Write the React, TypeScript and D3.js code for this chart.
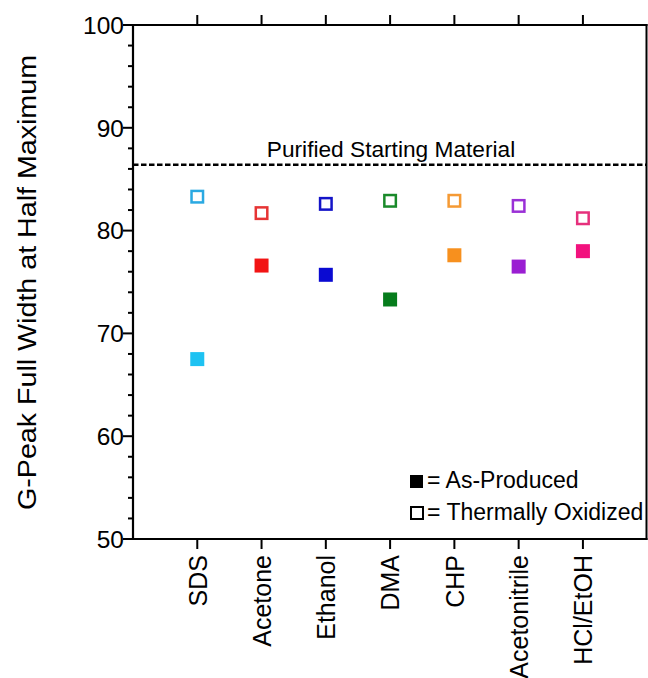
import React from 'react';
import * as d3 from 'd3';

// chart data
const categories = ['SDS', 'Acetone', 'Ethanol', 'DMA', 'CHP', 'Acetonitrile', 'HCl/EtOH'];
const asProduced = [67.5, 76.6, 75.7, 73.3, 77.6, 76.5, 78.0];
const oxidized = [83.3, 81.7, 82.6, 82.9, 82.9, 82.4, 81.2];
const fillColors = ['#1ec2f2', '#f21414', '#0a0ad2', '#067c1c', '#f7901e', '#9a1ed2', '#f2127e'];
const strokeColors = ['#2aa9e2', '#e63434', '#1414c8', '#1a8a2a', '#f59a34', '#9a30d6', '#e6307c'];
const yTicks = [50, 60, 70, 80, 90, 100];
const purifiedLevel = 86.4;

const W = 648;
const H = 678;
const LEFT = 133;
const RIGHT = 646.5;
const TOP = 25;
const BOTTOM = 539;
const FONT = "'Liberation Sans', Arial, sans-serif";

export default function App() {
  // categories sit at integer positions, axes at -1 and 7
  const x = d3.scaleLinear().domain([-1, 7]).range([LEFT, 647.2]);
  const y = d3.scaleLinear().domain([50, 100]).range([BOTTOM, TOP]);
  const minorTicks = d3.range(50, 101, 2).filter((v) => v % 10 !== 0);
  const S = 14; // marker size

  return (
    <svg
      width={W}
      height={H}
      style={{ position: 'absolute', left: 0, top: 0, background: '#fff' }}
      fontFamily={FONT}
    >
      {/* frame */}
      <line x1={LEFT} x2={LEFT} y1={TOP - 1} y2={BOTTOM + 1} stroke="#000" strokeWidth={2.2} />
      <line x1={RIGHT} x2={RIGHT} y1={TOP - 1} y2={BOTTOM + 1} stroke="#000" strokeWidth={2} />
      <line x1={LEFT - 1} x2={RIGHT + 1} y1={TOP} y2={TOP} stroke="#000" strokeWidth={2.2} />
      <line x1={LEFT - 1} x2={RIGHT + 1} y1={BOTTOM} y2={BOTTOM} stroke="#000" strokeWidth={2.2} />

      {/* left ticks */}
      {yTicks.map((t) => (
        <g key={t}>
          <line x1={LEFT - 10} x2={LEFT} y1={y(t)} y2={y(t)} stroke="#000" strokeWidth={2} />
          <text x={LEFT - 9} y={y(t)} dy="0.36em" textAnchor="end" fontSize={24.5}>
            {t}
          </text>
        </g>
      ))}
      {minorTicks.map((t) => (
        <line key={t} x1={LEFT - 5} x2={LEFT} y1={y(t)} y2={y(t)} stroke="#000" strokeWidth={2} />
      ))}

      {/* top and bottom ticks + category labels */}
      {categories.map((c, i) => (
        <g key={c}>
          <line x1={x(i)} x2={x(i)} y1={TOP - 10} y2={TOP} stroke="#000" strokeWidth={2} />
          <line x1={x(i)} x2={x(i)} y1={BOTTOM} y2={BOTTOM + 10} stroke="#000" strokeWidth={2} />
          <text
            transform={`translate(${x(i)},${BOTTOM + 16}) rotate(-90)`}
            dy="0.37em"
            textAnchor="end"
            fontSize={25}
          >
            {c}
          </text>
        </g>
      ))}

      {/* y title */}
      <text
        transform={`translate(36,${(55 + 510) / 2}) rotate(-90)`}
        textAnchor="middle"
        fontSize={25}
        textLength={455}
        lengthAdjust="spacingAndGlyphs"
      >
        G-Peak Full Width at Half Maximum
      </text>

      {/* purified reference */}
      <line
        x1={LEFT}
        x2={RIGHT}
        y1={y(purifiedLevel)}
        y2={y(purifiedLevel)}
        stroke="#000"
        strokeWidth={2.4}
        strokeDasharray="5.5,2.5"
      />
      <text x={391} y={y(purifiedLevel) - 8} textAnchor="middle" fontSize={22.7}>
        Purified Starting Material
      </text>

      {/* markers */}
      {categories.map((c, i) => (
        <g key={c}>
          <rect
            x={x(i) - S / 2}
            y={y(asProduced[i]) - S / 2}
            width={S}
            height={S}
            fill={fillColors[i]}
          />
          <rect
            x={x(i) - S / 2 + 1.25}
            y={y(oxidized[i]) - S / 2 + 1.25}
            width={S - 2.5}
            height={S - 2.5}
            fill="#fff"
            stroke={strokeColors[i]}
            strokeWidth={2.5}
          />
        </g>
      ))}

      {/* legend */}
      <rect x={410} y={475} width={13} height={13} fill="#000" />
      <text x={427} y={488} fontSize={23}>
        = As-Produced
      </text>
      <rect x={411} y={507} width={12} height={12} fill="#fff" stroke="#000" strokeWidth={2} />
      <text x={427} y={520} fontSize={23}>
        = Thermally Oxidized
      </text>
    </svg>
  );
}
